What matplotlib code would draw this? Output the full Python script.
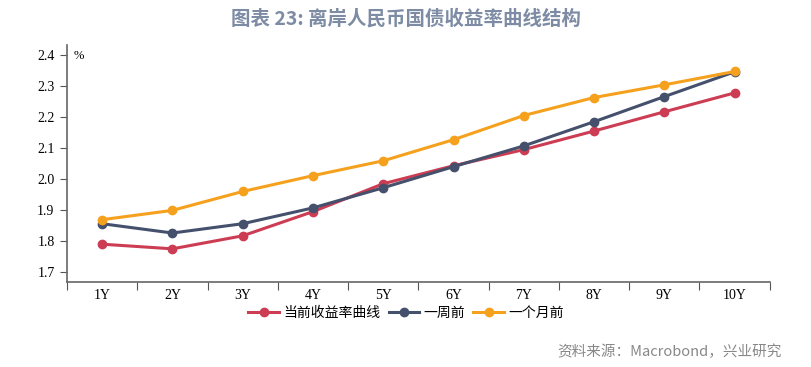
import numpy as np
import matplotlib.pyplot as plt

plt.rcParams['font.family'] = ['Liberation Serif', 'Noto Sans CJK SC']

tenors = ["1Y", "2Y", "3Y", "4Y", "5Y", "6Y", "7Y", "8Y", "9Y", "10Y"]
current = [1.790, 1.775, 1.817, 1.895, 1.985, 2.043, 2.095, 2.155, 2.217, 2.278]
week_ago = [1.856, 1.826, 1.856, 1.907, 1.972, 2.040, 2.107, 2.185, 2.266, 2.346]
month_ago = [1.869, 1.899, 1.960, 2.011, 2.059, 2.127, 2.205, 2.263, 2.304, 2.347]

series = [
    ("当前收益率曲线", current, "#cc3d54"),
    ("一周前", week_ago, "#44506c"),
    ("一个月前", month_ago, "#f5a11e"),
]

fig = plt.figure(figsize=(8.12, 3.67), dpi=100)
ax = fig.add_axes([0.0825, 0.2316, 0.8655, 0.6454])

x = np.arange(len(tenors))
for name, vals, col in series:
    ax.plot(x, vals, color=col, lw=2.2, marker="o", ms=6, label=name)

ax.set_xlim(-0.5, len(tenors) - 0.5)
ax.set_ylim(1.668, 2.432)
ax.set_yticks(np.arange(1.7, 2.41, 0.1))
ax.set_yticklabels([f"{v:.1f}" for v in np.arange(1.7, 2.41, 0.1)], fontsize=10)
ax.set_xticks(np.arange(-0.5, len(tenors) - 0.4, 1.0))
ax.set_xticklabels([])
ax.set_xticks(x, minor=True)
ax.set_xticklabels(tenors, minor=True, fontsize=10)
ax.tick_params(axis="x", which="minor", length=0, pad=5)
ax.tick_params(axis="x", which="major", length=6, color="#555555")
ax.tick_params(axis="y", length=5, color="#555555", pad=4)
for s in ["top", "right"]:
    ax.spines[s].set_visible(False)
for s in ["left", "bottom"]:
    ax.spines[s].set_color("#666666")
    ax.spines[s].set_linewidth(1.2)

ax.text(0.01, 0.98, "%", transform=ax.transAxes, fontsize=9, va="top", ha="left")

leg = fig.legend(loc="center", bbox_to_anchor=(0.5, 0.148), ncol=3, frameon=False,
                 handlelength=2.2, handletextpad=0.3, columnspacing=0.6,
                 prop={"family": ["Noto Sans CJK SC"], "size": 10})

fig.text(0.5, 0.95, "图表 23: 离岸人民币国债收益率曲线结构", ha="center", va="center",
         fontsize=14, fontweight="bold", color="#7d8ca4", family=["Noto Sans CJK SC"])
fig.text(0.962, 0.042, "资料来源：Macrobond，兴业研究", ha="right", va="center",
         fontsize=10.5, color="#888888", family=["Noto Sans CJK SC"])

fig.savefig("out.png", dpi=100)
